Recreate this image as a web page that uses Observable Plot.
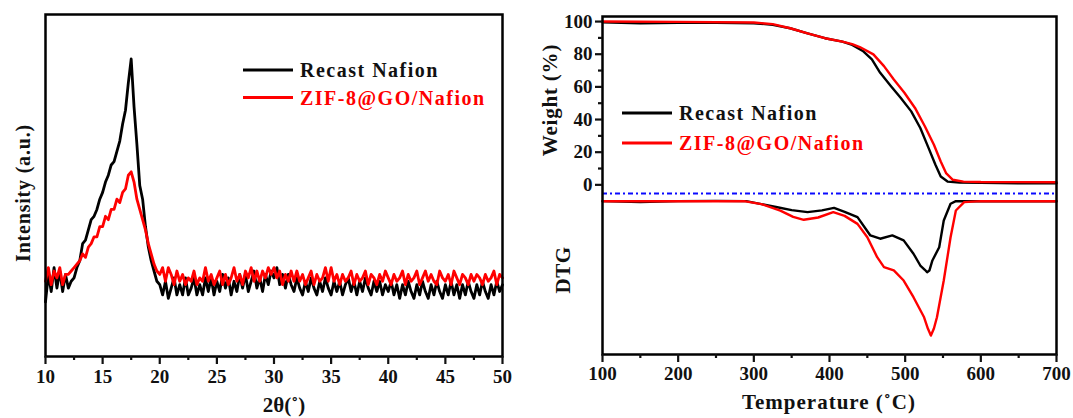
<!DOCTYPE html>
<html>
<head>
<meta charset="utf-8">
<script src="https://cdn.jsdelivr.net/npm/d3@7"></script>
<script src="https://cdn.jsdelivr.net/npm/@observablehq/plot@0.6"></script>
<style>
  body { margin: 0; background: #fff; }
  #wrap { position: relative; width: 1073px; height: 418px; overflow: hidden; background: #fff; }
  #wrap svg { position: absolute; top: 0; }
</style>
</head>
<body>
<div id="wrap"></div>
<script>
// ---------- DATA ----------
const seriesNames = ["Recast Nafion", "ZIF-8@GO/Nafion"];
const seriesColors = ["#000000", "#ff0000"];

// XRD (left panel): 2θ from 10 to 50 in steps of 0.25°, intensity in a.u.
const xrdStart = 10, xrdStep = 0.25;
const xrdBlack = [
  16,24,19,26,20,25,19,24,20,22,23,26,28,33,34,37,40,41,43,46,
  48,51,53,56,57,60,63,68,72,80,87,73,62,50,46,38,32,28,25,22,
  21,18,22,17,20,23,18,21,18,23,18,20,23,18,21,18,23,19,23,18,
  22,19,24,20,23,18,22,19,24,20,24,19,22,25,20,23,19,24,21,25,
  23,26,21,24,20,24,21,19,23,20,18,22,19,23,20,18,22,19,23,20,
  18,22,19,22,18,21,23,19,22,18,22,19,23,20,18,22,19,22,18,21,
  19,22,18,21,17,21,18,22,19,17,21,18,22,19,17,21,18,22,19,17,
  21,18,22,18,21,17,21,18,22,19,17,21,18,22,19,17,21,18,22,19,
  21
];
const xrdRed = [
  22,26,21,25,23,26,21,24,24,25,26,27,28,30,29,32,33,35,35,38,
  38,41,40,43,43,46,45,48,49,53,54,51,46,43,40,37,33,30,27,25,
  24,26,22,26,24,21,25,22,24,21,23,22,25,21,23,22,26,22,24,21,
  23,25,21,24,21,23,26,22,24,21,25,23,26,22,25,22,25,23,26,24,
  26,23,25,21,24,22,25,22,25,22,24,21,23,25,21,24,22,23,26,22,
  26,22,24,21,24,22,23,25,21,24,22,23,25,21,24,23,21,24,22,25,
  23,21,24,22,23,25,21,24,22,23,25,21,23,25,22,24,22,21,25,23,
  22,24,21,25,23,21,24,23,21,24,22,24,23,21,24,22,23,25,21,24,
  23
];
const xrdMajorTicks = [10,15,20,25,30,35,40,45,50];
const xrdMinorTicks = [12.5,17.5,22.5,27.5,32.5,37.5,42.5,47.5];

// TGA weight (%) vs temperature (°C)
const tgaTempBlack   = [100,150,200,250,300,325,348,371,394,417,430,444,456,467,481,494,508,520,531,540,547,556,572,600,650,700];
const tgaWeightBlack = [99.6,99.0,99.2,99.3,99.0,98.0,95.9,92.8,89.8,87.7,85.7,82.0,76.8,68.6,60.5,53.3,45.0,34.8,22.5,12.3,5.1,2.0,1.4,1.2,1.0,1.0];
const tgaTempRed     = [100,200,300,325,348,371,394,417,430,440,458,472,485,499,513,526,538,547,554,563,577,600,700];
const tgaWeightRed   = [100,99.8,99.4,98.4,95.9,92.8,89.8,87.7,86.2,84.4,79.9,72.7,64.5,56.4,47.1,35.9,24.6,14.3,7.2,3.1,2.0,1.7,1.6];

// DTG curves (arbitrary units, expressed on the shared vertical scale below the 0 % line)
const dtgTempBlack = [100,150,200,250,290,331,350,371,390,406,420,437,454,467,483,498,511,520,526,529,532,536,545,551,560,567,600,650,700];
const dtgBlack     = [-10,-10.6,-10,-9.8,-10,-13.7,-15.5,-16.7,-15.6,-14.1,-16.5,-19.8,-31,-33,-31,-34,-42.2,-49.4,-52,-53.5,-52.5,-46.3,-38.2,-21.8,-11.6,-10,-10,-10,-10];
const dtgTempRed   = [100,200,287,310,335,352,366,385,405,420,437,450,463,472,485,498,511,525,530,534,538,542,551,560,567,578,600,700];
const dtgRed       = [-10,-10,-10,-11.8,-15.8,-19.6,-21.4,-20,-16.7,-19,-23.9,-32.1,-44.3,-50.4,-52.4,-58.6,-68.8,-81.1,-88,-92.3,-88,-81.1,-58.6,-32.1,-15.7,-10.6,-10,-10];
const separatorLevel = -5.3;

const tempMajorTicks = [100,200,300,400,500,600,700];
const tempMinorTicks = [150,250,350,450,550,650];
const weightMajorTicks = [0,20,40,60,80,100];
const weightMinorTicks = [10,30,50,70,90];

// ---------- BUILD ----------
const FONT = '"Liberation Serif", "Times New Roman", serif';
const TXT = "#111";
const baseStyle = {fontFamily: FONT, fontSize: "19px", fontWeight: "bold", color: TXT, background: "transparent", overflow: "visible"};

const xrdRows = (vals) => vals.map((v, i) => ({x: xrdStart + i * xrdStep, y: v}));
const pairRows = (xs, ys) => xs.map((x, i) => ({x, y: ys[i]}));

const wrap = document.getElementById("wrap");

const left = Plot.plot({
  width: 520, height: 418,
  marginLeft: 45, marginRight: 18, marginTop: 14, marginBottom: 62,
  x: {domain: [10, 50]},
  y: {domain: [0, 100], axis: null},
  style: baseStyle,
  marks: [
    Plot.line(xrdRows(xrdBlack), {x: "x", y: "y", stroke: seriesColors[0], strokeWidth: 2.8}),
    Plot.line(xrdRows(xrdRed), {x: "x", y: "y", stroke: seriesColors[1], strokeWidth: 2.8}),
    Plot.frame({stroke: "#000", strokeWidth: 2.5}),
    Plot.axisX(xrdMajorTicks, {tickSize: 8, tickPadding: 5, strokeWidth: 2.2, fontSize: 19, label: null, fill: TXT}),
    Plot.axisX(xrdMinorTicks, {tickSize: 4, text: null, strokeWidth: 2.2, label: null})
  ]
});
left.style.left = "0px";
wrap.appendChild(left);

const right = Plot.plot({
  width: 543, height: 418,
  marginLeft: 72, marginRight: 17, marginTop: 16, marginBottom: 64,
  x: {domain: [100, 700]},
  y: {domain: [-103.9, 103.1]},
  style: baseStyle,
  marks: [
    Plot.ruleY([separatorLevel], {stroke: "#0a0aff", strokeWidth: 1.9, strokeDasharray: "5,3,2,3"}),
    Plot.line(pairRows(tgaTempBlack, tgaWeightBlack), {x: "x", y: "y", stroke: seriesColors[0], strokeWidth: 2.4}),
    Plot.line(pairRows(tgaTempRed, tgaWeightRed), {x: "x", y: "y", stroke: seriesColors[1], strokeWidth: 2.4}),
    Plot.line(pairRows(dtgTempBlack, dtgBlack), {x: "x", y: "y", stroke: seriesColors[0], strokeWidth: 2.4}),
    Plot.line(pairRows(dtgTempRed, dtgRed), {x: "x", y: "y", stroke: seriesColors[1], strokeWidth: 2.4}),
    Plot.frame({stroke: "#000", strokeWidth: 2.5}),
    Plot.axisX(tempMajorTicks, {tickSize: 8, tickPadding: 4, strokeWidth: 2.2, fontSize: 19, label: null, fill: TXT}),
    Plot.axisX(tempMinorTicks, {tickSize: 4, text: null, strokeWidth: 2.2, label: null}),
    Plot.axisY(weightMajorTicks, {anchor: "left", tickSize: 7, tickPadding: 3, strokeWidth: 2.2, fontSize: 19, label: null, fill: TXT}),
    Plot.axisY(weightMinorTicks, {anchor: "left", tickSize: 4, text: null, strokeWidth: 2.2, label: null})
  ]
});
right.style.left = "530px";
wrap.appendChild(right);

// ---------- TITLES & LEGENDS (overlay) ----------
const ov = d3.select(wrap).append("svg")
  .attr("width", 1073).attr("height", 418)
  .style("left", "0px").style("top", "0px")
  .style("font-family", FONT).style("font-weight", "bold");

function rotLabel(x, y, txt, size, ls) {
  ov.append("text").attr("transform", `translate(${x},${y}) rotate(-90)`)
    .attr("text-anchor", "middle").attr("fill", TXT)
    .style("font-size", size + "px").style("letter-spacing", ls + "px").text(txt);
}
rotLabel(30, 193, "Intensity (a.u.)", 20, 0.8);
rotLabel(557, 100, "Weight (%)", 21, 0.8);
rotLabel(570, 270, "DTG", 21, 0.5);

ov.append("text").attr("x", 284).attr("y", 412).attr("text-anchor", "middle").attr("fill", TXT)
  .style("font-size", "21px").text("2θ(˚)");
ov.append("text").attr("x", 829).attr("y", 409).attr("text-anchor", "middle").attr("fill", TXT)
  .style("font-size", "21px").style("letter-spacing", "1px").text("Temperature (˚C)");

function legend(x0, lineLen, ys, baselines) {
  seriesNames.forEach((name, i) => {
    ov.append("line").attr("x1", x0).attr("x2", x0 + lineLen).attr("y1", ys[i]).attr("y2", ys[i])
      .attr("stroke", seriesColors[i]).attr("stroke-width", 3);
    ov.append("text").attr("x", x0 + lineLen + 7).attr("y", baselines[i])
      .attr("fill", i === 0 ? TXT : seriesColors[i])
      .style("font-size", "20px").style("letter-spacing", "1.5px").text(name);
  });
}
legend(243, 50, [70, 97.5], [76.5, 104.5]);
legend(622, 50, [113, 143], [119.5, 149.5]);
</script>
</body>
</html>
